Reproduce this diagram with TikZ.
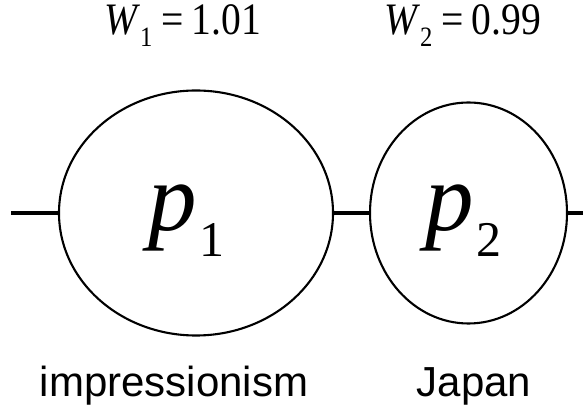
\documentclass[tikz,border=0pt]{standalone}
\usepackage{graphicx}
\usepackage{fontspec}
\setmainfont{Liberation Serif}
\newfontfamily\arialfont{Liberation Sans}
\usetikzlibrary{positioning,calc,shapes.geometric}
\newcommand{\bigp}[1]{{\fontsize{97}{97}\selectfont\textit{p}\kern3pt\raisebox{-26pt}{\fontsize{50}{50}\selectfont #1}}}
\newcommand{\weight}[2]{\scalebox{0.88}[1]{\fontsize{45}{45}\selectfont\textit{W}\kern0pt\raisebox{-12pt}{\fontsize{28}{28}\selectfont #1}\kern10pt=\kern9pt#2}}
\tikzset{
    every picture/.style={line cap=butt,line join=round},
    bead/.style={draw=black,ellipse,line width=2.1pt,inner sep=0pt,outer sep=0pt},
    link/.style={draw=black,line width=3.6pt},
    wlabel/.style={inner sep=0pt,anchor=base west},
    plabel/.style={inner sep=0pt,anchor=base west},
    tag/.style={inner sep=0pt,anchor=base,font=\arialfont\fontsize{42}{42}\selectfont}
}
\begin{document}
\begin{tikzpicture}[x=1pt,y=1pt]
    \useasboundingbox (0,0) rectangle (583,409);
    % beads on the chain
    \node[bead,minimum width=274pt,minimum height=245pt] (p1) at (196,196) {};
    \node[bead,minimum width=197pt,minimum height=221pt] (p2) at (468.5,196) {};
    \coordinate (lend) at (11,196);
    \coordinate (rend) at (583,196);
    \draw[link] (lend) -- (p1.west);
    \draw[link] (p1.east) -- (p2.west);
    \draw[link] (p2.east) -- (rend);
    % symbols inside
    \node[plabel] (s1) at (148,178.5) {\bigp{1}};
    \node[plabel] (s2) at (425,178.5) {\bigp{2}};
    % weights above
    \node[wlabel] (w1) at (104,374) {\weight{1}{1.01}};
    \node[wlabel] (w2) at (384,374) {\weight{2}{0.99}};
    % names below
    \node[tag] (n1) at (174,12) {impressionism};
    \node[tag] (n2) at (474,12) {Japan};
\end{tikzpicture}
\end{document}
